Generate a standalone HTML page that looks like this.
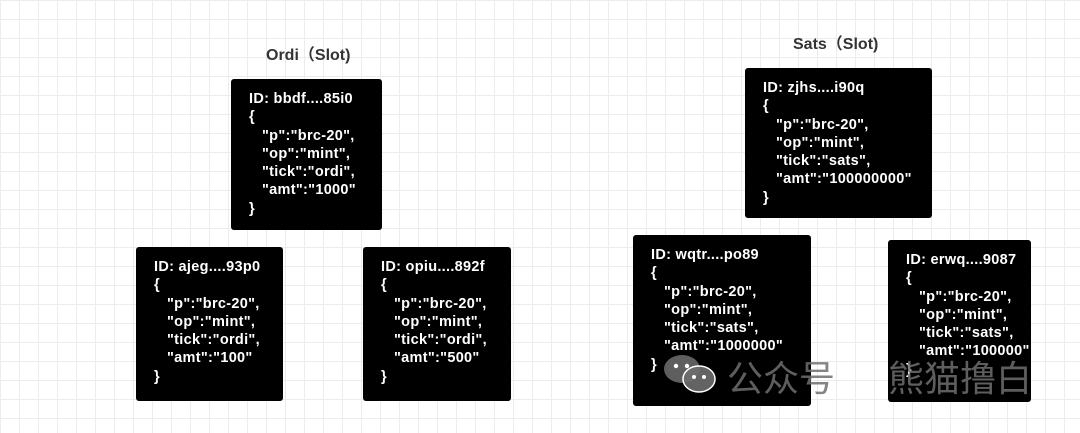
<!DOCTYPE html>
<html><head><meta charset="utf-8"><style>
body{margin:0;width:1080px;height:433px;overflow:hidden;background:#fff;
background-image:linear-gradient(#ececec 1px,transparent 1px),linear-gradient(90deg,#ececec 1px,transparent 1px);background-size:19px 19px;position:relative;font-family:"Liberation Sans","Noto Sans CJK SC",sans-serif}
.b{position:absolute;background:#000;border-radius:3px;color:#fff;font-weight:bold;font-size:14.5px;letter-spacing:0.3px;line-height:18.3px;box-sizing:border-box;padding:11px 0 0 18px;white-space:pre}
.t{position:absolute;font-size:16px;font-weight:bold;color:#333}
.wm{position:absolute;color:rgba(110,110,110,0.85);font-size:36px;font-family:"Noto Sans CJK SC",sans-serif}
</style></head><body>
<div class="t" style="left:266px;top:41px">Ordi（Slot)</div>
<div class="t" style="left:793px;top:30px">Sats（Slot)</div>
<div class="b" style="left:231px;top:79px;width:151px;height:151px">ID: bbdf....85i0
{
   "p":"brc-20",
   "op":"mint",
   "tick":"ordi",
   "amt":"1000"
}</div>
<div class="b" style="left:136px;top:247px;width:147px;height:154px">ID: ajeg....93p0
{
   "p":"brc-20",
   "op":"mint",
   "tick":"ordi",
   "amt":"100"
}</div>
<div class="b" style="left:363px;top:247px;width:148px;height:154px">ID: opiu....892f
{
   "p":"brc-20",
   "op":"mint",
   "tick":"ordi",
   "amt":"500"
}</div>
<div class="b" style="left:745px;top:68px;width:187px;height:150px">ID: zjhs....i90q
{
   "p":"brc-20",
   "op":"mint",
   "tick":"sats",
   "amt":"100000000"
}</div>
<div class="b" style="left:633px;top:235px;width:178px;height:171px">ID: wqtr....po89
{
   "p":"brc-20",
   "op":"mint",
   "tick":"sats",
   "amt":"1000000"
}</div>
<div class="b" style="left:888px;top:240px;width:143px;height:162px">ID: erwq....9087
{
   "p":"brc-20",
   "op":"mint",
   "tick":"sats",
   "amt":"100000"
}</div>
<svg style="position:absolute;left:662px;top:354px" width="56" height="40" viewBox="0 0 56 40">
<ellipse cx="20" cy="15" rx="18" ry="14" fill="rgba(110,110,110,0.85)"/>
<ellipse cx="37" cy="25" rx="16" ry="13" fill="rgba(110,110,110,0.9)" stroke="#fff" stroke-width="1.5"/>
<circle cx="14" cy="12" r="2.2" fill="#fff"/><circle cx="25" cy="12" r="2.2" fill="#fff"/>
<circle cx="32" cy="23" r="2" fill="#fff"/><circle cx="42" cy="23" r="2" fill="#fff"/>
</svg>
<div class="wm" style="left:727px;top:350px">公众号</div>
<div class="wm" style="left:888px;top:350px">熊猫撸白</div>
</body></html>
